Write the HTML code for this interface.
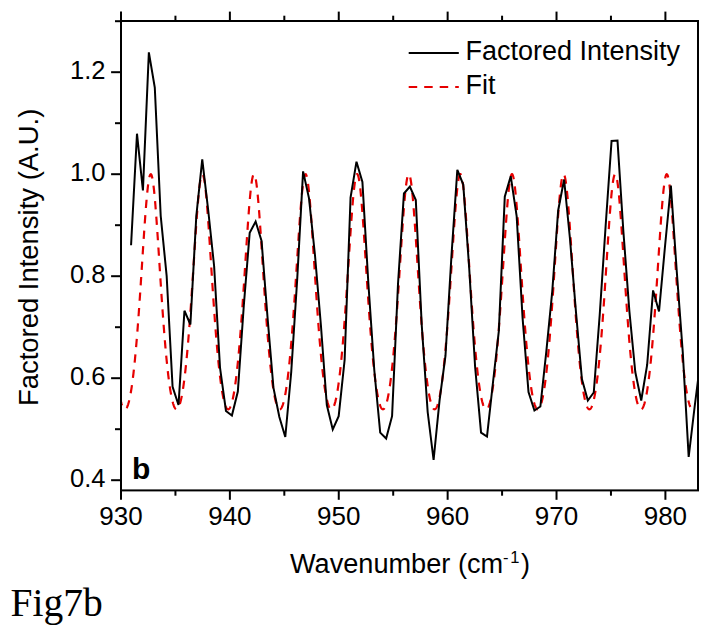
<!DOCTYPE html>
<html><head><meta charset="utf-8"><style>
html,body{margin:0;padding:0;background:#fff;}
svg{display:block;}
text{font-family:"Liberation Sans",sans-serif;fill:#000;}
</style></head><body>
<svg width="711" height="636" viewBox="0 0 711 636">
<rect width="711" height="636" fill="#fff"/>
<defs><clipPath id="pc"><rect x="121" y="21" width="577" height="469.4"/></clipPath></defs>
<g clip-path="url(#pc)">
<path d="M121.00,401.69 L121.22,402.51 L121.44,403.28 L121.65,404.01 L121.87,404.69 L122.09,405.32 L122.31,405.90 L122.52,406.44 L122.74,406.93 L122.96,407.38 L123.18,407.78 L123.40,408.13 L123.61,408.44 L123.83,408.70 L124.05,408.91 L124.27,409.08 L124.48,409.20 L124.70,409.28 L124.92,409.31 L125.14,409.29 L125.36,409.23 L125.57,409.13 L125.79,408.97 L126.01,408.77 L126.23,408.53 L126.44,408.24 L126.66,407.90 L126.88,407.52 L127.10,407.09 L127.32,406.61 L127.53,406.09 L127.75,405.52 L127.97,404.90 L128.19,404.24 L128.40,403.53 L128.62,402.77 L128.84,401.96 L129.06,401.11 L129.27,400.21 L129.49,399.26 L129.71,398.27 L129.93,397.22 L130.15,396.13 L130.36,394.99 L130.58,393.80 L130.80,392.56 L131.02,391.27 L131.23,389.94 L131.45,388.55 L131.67,387.11 L131.89,385.63 L132.11,384.09 L132.32,382.50 L132.54,380.87 L132.76,379.18 L132.98,377.44 L133.19,375.65 L133.41,373.82 L133.63,371.93 L133.85,369.98 L134.07,367.99 L134.28,365.95 L134.50,363.86 L134.72,361.71 L134.94,359.52 L135.15,357.27 L135.37,354.98 L135.59,352.63 L135.81,350.24 L136.03,347.79 L136.24,345.30 L136.46,342.75 L136.68,340.16 L136.90,337.52 L137.11,334.84 L137.33,332.11 L137.55,329.33 L137.77,326.50 L137.99,323.64 L138.20,320.73 L138.42,317.78 L138.64,314.79 L138.86,311.76 L139.07,308.69 L139.29,305.59 L139.51,302.45 L139.73,299.28 L139.95,296.07 L140.16,292.84 L140.38,289.59 L140.60,286.31 L140.82,283.01 L141.03,279.68 L141.25,276.35 L141.47,272.99 L141.69,269.63 L141.90,266.26 L142.12,262.89 L142.34,259.52 L142.56,256.15 L142.78,252.78 L142.99,249.43 L143.21,246.09 L143.43,242.77 L143.65,239.47 L143.86,236.20 L144.08,232.97 L144.30,229.77 L144.52,226.61 L144.74,223.50 L144.95,220.44 L145.17,217.43 L145.39,214.49 L145.61,211.61 L145.82,208.80 L146.04,206.07 L146.26,203.42 L146.48,200.86 L146.70,198.39 L146.91,196.01 L147.13,193.74 L147.35,191.57 L147.57,189.51 L147.78,187.56 L148.00,185.73 L148.22,184.03 L148.44,182.45 L148.66,181.00 L148.87,179.68 L149.09,178.50 L149.31,177.46 L149.53,176.56 L149.74,175.80 L149.96,175.19 L150.18,174.72 L150.40,174.40 L150.62,174.23 L150.83,174.21 L151.05,174.34 L151.27,174.61 L151.49,175.03 L151.70,175.60 L151.92,176.32 L152.14,177.17 L152.36,178.17 L152.58,179.31 L152.79,180.59 L153.01,182.00 L153.23,183.54 L153.45,185.21 L153.66,187.00 L153.88,188.91 L154.10,190.94 L154.32,193.07 L154.54,195.32 L154.75,197.66 L154.97,200.11 L155.19,202.64 L155.41,205.27 L155.62,207.97 L155.84,210.76 L156.06,213.62 L156.28,216.54 L156.49,219.53 L156.71,222.57 L156.93,225.67 L157.15,228.81 L157.37,232.00 L157.58,235.23 L157.80,238.49 L158.02,241.78 L158.24,245.09 L158.45,248.42 L158.67,251.77 L158.89,255.13 L159.11,258.50 L159.33,261.87 L159.54,265.25 L159.76,268.62 L159.98,271.98 L160.20,275.34 L160.41,278.68 L160.63,282.01 L160.85,285.32 L161.07,288.60 L161.29,291.87 L161.50,295.11 L161.72,298.32 L161.94,301.50 L162.16,304.64 L162.37,307.76 L162.59,310.84 L162.81,313.88 L163.03,316.88 L163.25,319.85 L163.46,322.77 L163.68,325.65 L163.90,328.48 L164.12,331.27 L164.33,334.02 L164.55,336.72 L164.77,339.37 L164.99,341.98 L165.21,344.54 L165.42,347.05 L165.64,349.51 L165.86,351.92 L166.08,354.28 L166.29,356.59 L166.51,358.85 L166.73,361.06 L166.95,363.22 L167.17,365.33 L167.38,367.38 L167.60,369.39 L167.82,371.35 L168.04,373.25 L168.25,375.11 L168.47,376.91 L168.69,378.66 L168.91,380.37 L169.12,382.02 L169.34,383.62 L169.56,385.17 L169.78,386.67 L170.00,388.12 L170.21,389.52 L170.43,390.88 L170.65,392.18 L170.87,393.43 L171.08,394.64 L171.30,395.79 L171.52,396.90 L171.74,397.96 L171.96,398.97 L172.17,399.93 L172.39,400.85 L172.61,401.71 L172.83,402.53 L173.04,403.30 L173.26,404.03 L173.48,404.70 L173.70,405.34 L173.92,405.92 L174.13,406.46 L174.35,406.95 L174.57,407.39 L174.79,407.79 L175.00,408.14 L175.22,408.44 L175.44,408.70 L175.66,408.92 L175.88,409.08 L176.09,409.21 L176.31,409.28 L176.53,409.31 L176.75,409.29 L176.96,409.23 L177.18,409.12 L177.40,408.97 L177.62,408.77 L177.84,408.52 L178.05,408.23 L178.27,407.89 L178.49,407.50 L178.71,407.07 L178.92,406.59 L179.14,406.07 L179.36,405.50 L179.58,404.88 L179.80,404.22 L180.01,403.51 L180.23,402.75 L180.45,401.94 L180.67,401.09 L180.88,400.18 L181.10,399.24 L181.32,398.24 L181.54,397.19 L181.76,396.10 L181.97,394.96 L182.19,393.77 L182.41,392.53 L182.63,391.24 L182.84,389.90 L183.06,388.51 L183.28,387.07 L183.50,385.58 L183.71,384.05 L183.93,382.46 L184.15,380.82 L184.37,379.13 L184.59,377.39 L184.80,375.60 L185.02,373.76 L185.24,371.87 L185.46,369.93 L185.67,367.94 L185.89,365.89 L186.11,363.80 L186.33,361.65 L186.55,359.46 L186.76,357.21 L186.98,354.91 L187.20,352.57 L187.42,350.17 L187.63,347.72 L187.85,345.23 L188.07,342.68 L188.29,340.09 L188.51,337.45 L188.72,334.76 L188.94,332.03 L189.16,329.25 L189.38,326.42 L189.59,323.56 L189.81,320.65 L190.03,317.69 L190.25,314.70 L190.47,311.67 L190.68,308.60 L190.90,305.50 L191.12,302.36 L191.34,299.19 L191.55,295.98 L191.77,292.75 L191.99,289.50 L192.21,286.21 L192.43,282.91 L192.64,279.59 L192.86,276.25 L193.08,272.90 L193.30,269.54 L193.51,266.17 L193.73,262.79 L193.95,259.42 L194.17,256.05 L194.39,252.69 L194.60,249.33 L194.82,246.00 L195.04,242.68 L195.26,239.38 L195.47,236.11 L195.69,232.88 L195.91,229.68 L196.13,226.52 L196.34,223.41 L196.56,220.35 L196.78,217.35 L197.00,214.41 L197.22,211.53 L197.43,208.73 L197.65,206.00 L197.87,203.35 L198.09,200.79 L198.30,198.32 L198.52,195.95 L198.74,193.68 L198.96,191.51 L199.18,189.45 L199.39,187.51 L199.61,185.69 L199.83,183.98 L200.05,182.41 L200.26,180.96 L200.48,179.65 L200.70,178.47 L200.92,177.43 L201.14,176.54 L201.35,175.78 L201.57,175.17 L201.79,174.71 L202.01,174.40 L202.22,174.23 L202.44,174.21 L202.66,174.34 L202.88,174.62 L203.10,175.05 L203.31,175.62 L203.53,176.34 L203.75,177.20 L203.97,178.20 L204.18,179.35 L204.40,180.63 L204.62,182.04 L204.84,183.59 L205.06,185.26 L205.27,187.05 L205.49,188.97 L205.71,191.00 L205.93,193.14 L206.14,195.38 L206.36,197.73 L206.58,200.18 L206.80,202.72 L207.02,205.34 L207.23,208.05 L207.45,210.84 L207.67,213.70 L207.89,216.62 L208.10,219.61 L208.32,222.66 L208.54,225.76 L208.76,228.90 L208.98,232.09 L209.19,235.32 L209.41,238.58 L209.63,241.87 L209.85,245.18 L210.06,248.52 L210.28,251.87 L210.50,255.23 L210.72,258.60 L210.93,261.97 L211.15,265.34 L211.37,268.71 L211.59,272.08 L211.81,275.43 L212.02,278.77 L212.24,282.10 L212.46,285.41 L212.68,288.70 L212.89,291.96 L213.11,295.20 L213.33,298.41 L213.55,301.59 L213.77,304.73 L213.98,307.85 L214.20,310.92 L214.42,313.96 L214.64,316.97 L214.85,319.93 L215.07,322.85 L215.29,325.73 L215.51,328.56 L215.73,331.35 L215.94,334.10 L216.16,336.80 L216.38,339.45 L216.60,342.05 L216.81,344.61 L217.03,347.12 L217.25,349.57 L217.47,351.98 L217.69,354.34 L217.90,356.65 L218.12,358.91 L218.34,361.12 L218.56,363.28 L218.77,365.38 L218.99,367.44 L219.21,369.45 L219.43,371.40 L219.65,373.30 L219.86,375.16 L220.08,376.96 L220.30,378.71 L220.52,380.41 L220.73,382.06 L220.95,383.66 L221.17,385.21 L221.39,386.71 L221.61,388.16 L221.82,389.56 L222.04,390.91 L222.26,392.21 L222.48,393.47 L222.69,394.67 L222.91,395.82 L223.13,396.93 L223.35,397.99 L223.56,399.00 L223.78,399.96 L224.00,400.87 L224.22,401.74 L224.44,402.55 L224.65,403.32 L224.87,404.05 L225.09,404.72 L225.31,405.35 L225.52,405.93 L225.74,406.47 L225.96,406.96 L226.18,407.40 L226.40,407.80 L226.61,408.15 L226.83,408.45 L227.05,408.71 L227.27,408.92 L227.48,409.09 L227.70,409.21 L227.92,409.28 L228.14,409.31 L228.36,409.29 L228.57,409.23 L228.79,409.12 L229.01,408.96 L229.23,408.76 L229.44,408.51 L229.66,408.22 L229.88,407.88 L230.10,407.49 L230.32,407.06 L230.53,406.58 L230.75,406.05 L230.97,405.48 L231.19,404.86 L231.40,404.20 L231.62,403.48 L231.84,402.72 L232.06,401.92 L232.28,401.06 L232.49,400.16 L232.71,399.21 L232.93,398.21 L233.15,397.16 L233.36,396.07 L233.58,394.92 L233.80,393.73 L234.02,392.49 L234.24,391.20 L234.45,389.86 L234.67,388.47 L234.89,387.03 L235.11,385.54 L235.32,384.00 L235.54,382.41 L235.76,380.77 L235.98,379.08 L236.20,377.34 L236.41,375.55 L236.63,373.71 L236.85,371.82 L237.07,369.87 L237.28,367.88 L237.50,365.83 L237.72,363.74 L237.94,361.59 L238.15,359.39 L238.37,357.15 L238.59,354.85 L238.81,352.50 L239.03,350.10 L239.24,347.65 L239.46,345.16 L239.68,342.61 L239.90,340.02 L240.11,337.37 L240.33,334.69 L240.55,331.95 L240.77,329.17 L240.99,326.34 L241.20,323.48 L241.42,320.56 L241.64,317.61 L241.86,314.62 L242.07,311.59 L242.29,308.52 L242.51,305.41 L242.73,302.27 L242.95,299.10 L243.16,295.89 L243.38,292.66 L243.60,289.40 L243.82,286.12 L244.03,282.82 L244.25,279.50 L244.47,276.16 L244.69,272.81 L244.91,269.44 L245.12,266.07 L245.34,262.70 L245.56,259.33 L245.78,255.96 L245.99,252.59 L246.21,249.24 L246.43,245.90 L246.65,242.58 L246.87,239.29 L247.08,236.02 L247.30,232.79 L247.52,229.59 L247.74,226.43 L247.95,223.32 L248.17,220.27 L248.39,217.27 L248.61,214.32 L248.83,211.45 L249.04,208.65 L249.26,205.92 L249.48,203.28 L249.70,200.72 L249.91,198.25 L250.13,195.88 L250.35,193.61 L250.57,191.45 L250.78,189.40 L251.00,187.46 L251.22,185.64 L251.44,183.94 L251.66,182.37 L251.87,180.92 L252.09,179.61 L252.31,178.44 L252.53,177.41 L252.74,176.51 L252.96,175.76 L253.18,175.16 L253.40,174.70 L253.62,174.39 L253.83,174.23 L254.05,174.21 L254.27,174.35 L254.49,174.63 L254.70,175.06 L254.92,175.64 L255.14,176.36 L255.36,177.23 L255.58,178.24 L255.79,179.38 L256.01,180.67 L256.23,182.08 L256.45,183.63 L256.66,185.31 L256.88,187.10 L257.10,189.02 L257.32,191.05 L257.54,193.20 L257.75,195.45 L257.97,197.80 L258.19,200.25 L258.41,202.79 L258.62,205.42 L258.84,208.13 L259.06,210.92 L259.28,213.78 L259.50,216.71 L259.71,219.70 L259.93,222.74 L260.15,225.84 L260.37,228.99 L260.58,232.18 L260.80,235.41 L261.02,238.67 L261.24,241.96 L261.46,245.28 L261.67,248.61 L261.89,251.96 L262.11,255.32 L262.33,258.69 L262.54,262.06 L262.76,265.44 L262.98,268.81 L263.20,272.17 L263.42,275.53 L263.63,278.87 L263.85,282.19 L264.07,285.50 L264.29,288.79 L264.50,292.05 L264.72,295.29 L264.94,298.50 L265.16,301.67 L265.37,304.82 L265.59,307.93 L265.81,311.01 L266.03,314.05 L266.25,317.05 L266.46,320.01 L266.68,322.93 L266.90,325.81 L267.12,328.64 L267.33,331.43 L267.55,334.17 L267.77,336.87 L267.99,339.52 L268.21,342.12 L268.42,344.68 L268.64,347.19 L268.86,349.64 L269.08,352.05 L269.29,354.41 L269.51,356.72 L269.73,358.97 L269.95,361.18 L270.17,363.34 L270.38,365.44 L270.60,367.50 L270.82,369.50 L271.04,371.46 L271.25,373.36 L271.47,375.21 L271.69,377.01 L271.91,378.76 L272.13,380.46 L272.34,382.11 L272.56,383.71 L272.78,385.26 L273.00,386.75 L273.21,388.20 L273.43,389.60 L273.65,390.95 L273.87,392.25 L274.09,393.50 L274.30,394.70 L274.52,395.86 L274.74,396.96 L274.96,398.02 L275.17,399.02 L275.39,399.98 L275.61,400.90 L275.83,401.76 L276.05,402.58 L276.26,403.34 L276.48,404.07 L276.70,404.74 L276.92,405.37 L277.13,405.95 L277.35,406.48 L277.57,406.97 L277.79,407.41 L278.00,407.81 L278.22,408.16 L278.44,408.46 L278.66,408.72 L278.88,408.93 L279.09,409.09 L279.31,409.21 L279.53,409.28 L279.75,409.31 L279.96,409.29 L280.18,409.23 L280.40,409.11 L280.62,408.96 L280.84,408.75 L281.05,408.50 L281.27,408.21 L281.49,407.87 L281.71,407.48 L281.92,407.05 L282.14,406.57 L282.36,406.04 L282.58,405.47 L282.80,404.85 L283.01,404.18 L283.23,403.46 L283.45,402.70 L283.67,401.89 L283.88,401.04 L284.10,400.13 L284.32,399.18 L284.54,398.18 L284.76,397.13 L284.97,396.04 L285.19,394.89 L285.41,393.70 L285.63,392.45 L285.84,391.16 L286.06,389.82 L286.28,388.43 L286.50,386.99 L286.72,385.50 L286.93,383.96 L287.15,382.37 L287.37,380.73 L287.59,379.04 L287.80,377.29 L288.02,375.50 L288.24,373.66 L288.46,371.76 L288.68,369.82 L288.89,367.82 L289.11,365.78 L289.33,363.68 L289.55,361.53 L289.76,359.33 L289.98,357.08 L290.20,354.78 L290.42,352.43 L290.64,350.03 L290.85,347.58 L291.07,345.08 L291.29,342.54 L291.51,339.94 L291.72,337.30 L291.94,334.61 L292.16,331.87 L292.38,329.09 L292.59,326.26 L292.81,323.39 L293.03,320.48 L293.25,317.53 L293.47,314.53 L293.68,311.50 L293.90,308.43 L294.12,305.32 L294.34,302.18 L294.55,299.01 L294.77,295.80 L294.99,292.57 L295.21,289.31 L295.43,286.03 L295.64,282.73 L295.86,279.40 L296.08,276.06 L296.30,272.71 L296.51,269.35 L296.73,265.98 L296.95,262.61 L297.17,259.23 L297.39,255.86 L297.60,252.50 L297.82,249.15 L298.04,245.81 L298.26,242.49 L298.47,239.20 L298.69,235.93 L298.91,232.70 L299.13,229.50 L299.35,226.35 L299.56,223.24 L299.78,220.18 L300.00,217.18 L300.22,214.24 L300.43,211.37 L300.65,208.57 L300.87,205.85 L301.09,203.21 L301.31,200.65 L301.52,198.19 L301.74,195.82 L301.96,193.55 L302.18,191.39 L302.39,189.34 L302.61,187.40 L302.83,185.59 L303.05,183.89 L303.27,182.32 L303.48,180.88 L303.70,179.58 L303.92,178.41 L304.14,177.38 L304.35,176.49 L304.57,175.74 L304.79,175.14 L305.01,174.69 L305.22,174.38 L305.44,174.22 L305.66,174.21 L305.88,174.35 L306.10,174.64 L306.31,175.07 L306.53,175.66 L306.75,176.38 L306.97,177.25 L307.18,178.27 L307.40,179.42 L307.62,180.70 L307.84,182.13 L308.06,183.68 L308.27,185.35 L308.49,187.16 L308.71,189.08 L308.93,191.11 L309.14,193.26 L309.36,195.51 L309.58,197.87 L309.80,200.32 L310.02,202.86 L310.23,205.49 L310.45,208.21 L310.67,211.00 L310.89,213.86 L311.10,216.79 L311.32,219.78 L311.54,222.83 L311.76,225.93 L311.98,229.08 L312.19,232.27 L312.41,235.50 L312.63,238.76 L312.85,242.05 L313.06,245.37 L313.28,248.70 L313.50,252.05 L313.72,255.42 L313.94,258.79 L314.15,262.16 L314.37,265.53 L314.59,268.90 L314.81,272.27 L315.02,275.62 L315.24,278.96 L315.46,282.29 L315.68,285.59 L315.90,288.88 L316.11,292.14 L316.33,295.38 L316.55,298.59 L316.77,301.76 L316.98,304.91 L317.20,308.02 L317.42,311.10 L317.64,314.13 L317.86,317.13 L318.07,320.09 L318.29,323.01 L318.51,325.89 L318.73,328.72 L318.94,331.51 L319.16,334.25 L319.38,336.95 L319.60,339.60 L319.81,342.20 L320.03,344.75 L320.25,347.26 L320.47,349.71 L320.69,352.12 L320.90,354.47 L321.12,356.78 L321.34,359.04 L321.56,361.24 L321.77,363.40 L321.99,365.50 L322.21,367.56 L322.43,369.56 L322.65,371.51 L322.86,373.41 L323.08,375.26 L323.30,377.06 L323.52,378.81 L323.73,380.51 L323.95,382.15 L324.17,383.75 L324.39,385.30 L324.61,386.80 L324.82,388.24 L325.04,389.64 L325.26,390.99 L325.48,392.29 L325.69,393.54 L325.91,394.74 L326.13,395.89 L326.35,396.99 L326.57,398.05 L326.78,399.05 L327.00,400.01 L327.22,400.92 L327.44,401.78 L327.65,402.60 L327.87,403.37 L328.09,404.09 L328.31,404.76 L328.53,405.39 L328.74,405.97 L328.96,406.50 L329.18,406.99 L329.40,407.43 L329.61,407.82 L329.83,408.17 L330.05,408.47 L330.27,408.72 L330.49,408.93 L330.70,409.10 L330.92,409.21 L331.14,409.28 L331.36,409.31 L331.57,409.29 L331.79,409.22 L332.01,409.11 L332.23,408.95 L332.44,408.75 L332.66,408.50 L332.88,408.20 L333.10,407.86 L333.32,407.47 L333.53,407.03 L333.75,406.55 L333.97,406.02 L334.19,405.45 L334.40,404.83 L334.62,404.16 L334.84,403.44 L335.06,402.68 L335.28,401.87 L335.49,401.01 L335.71,400.11 L335.93,399.15 L336.15,398.15 L336.36,397.10 L336.58,396.00 L336.80,394.86 L337.02,393.66 L337.24,392.42 L337.45,391.13 L337.67,389.78 L337.89,388.39 L338.11,386.95 L338.32,385.46 L338.54,383.91 L338.76,382.32 L338.98,380.68 L339.20,378.99 L339.41,377.24 L339.63,375.45 L339.85,373.61 L340.07,371.71 L340.28,369.76 L340.50,367.77 L340.72,365.72 L340.94,363.62 L341.16,361.47 L341.37,359.27 L341.59,357.02 L341.81,354.72 L342.03,352.37 L342.24,349.96 L342.46,347.51 L342.68,345.01 L342.90,342.47 L343.12,339.87 L343.33,337.22 L343.55,334.53 L343.77,331.80 L343.99,329.01 L344.20,326.18 L344.42,323.31 L344.64,320.40 L344.86,317.44 L345.08,314.45 L345.29,311.41 L345.51,308.34 L345.73,305.23 L345.95,302.09 L346.16,298.92 L346.38,295.71 L346.60,292.48 L346.82,289.22 L347.03,285.94 L347.25,282.63 L347.47,279.31 L347.69,275.97 L347.91,272.62 L348.12,269.25 L348.34,265.88 L348.56,262.51 L348.78,259.14 L348.99,255.77 L349.21,252.40 L349.43,249.05 L349.65,245.72 L349.87,242.40 L350.08,239.10 L350.30,235.84 L350.52,232.61 L350.74,229.41 L350.95,226.26 L351.17,223.15 L351.39,220.10 L351.61,217.10 L351.83,214.16 L352.04,211.29 L352.26,208.49 L352.48,205.77 L352.70,203.13 L352.91,200.58 L353.13,198.12 L353.35,195.75 L353.57,193.49 L353.79,191.33 L354.00,189.28 L354.22,187.35 L354.44,185.54 L354.66,183.85 L354.87,182.28 L355.09,180.85 L355.31,179.54 L355.53,178.38 L355.75,177.35 L355.96,176.47 L356.18,175.73 L356.40,175.13 L356.62,174.68 L356.83,174.38 L357.05,174.22 L357.27,174.22 L357.49,174.36 L357.71,174.65 L357.92,175.09 L358.14,175.67 L358.36,176.41 L358.58,177.28 L358.79,178.30 L359.01,179.45 L359.23,180.74 L359.45,182.17 L359.66,183.72 L359.88,185.40 L360.10,187.21 L360.32,189.13 L360.54,191.17 L360.75,193.32 L360.97,195.58 L361.19,197.93 L361.41,200.39 L361.62,202.93 L361.84,205.57 L362.06,208.28 L362.28,211.08 L362.50,213.94 L362.71,216.87 L362.93,219.87 L363.15,222.92 L363.37,226.02 L363.58,229.17 L363.80,232.36 L364.02,235.59 L364.24,238.86 L364.46,242.15 L364.67,245.46 L364.89,248.80 L365.11,252.15 L365.33,255.51 L365.54,258.88 L365.76,262.25 L365.98,265.63 L366.20,269.00 L366.42,272.36 L366.63,275.71 L366.85,279.06 L367.07,282.38 L367.29,285.69 L367.50,288.97 L367.72,292.23 L367.94,295.47 L368.16,298.68 L368.38,301.85 L368.59,305.00 L368.81,308.11 L369.03,311.18 L369.25,314.22 L369.46,317.22 L369.68,320.18 L369.90,323.09 L370.12,325.97 L370.34,328.80 L370.55,331.59 L370.77,334.33 L370.99,337.02 L371.21,339.67 L371.42,342.27 L371.64,344.82 L371.86,347.33 L372.08,349.78 L372.30,352.18 L372.51,354.54 L372.73,356.84 L372.95,359.10 L373.17,361.30 L373.38,363.46 L373.60,365.56 L373.82,367.61 L374.04,369.61 L374.25,371.56 L374.47,373.46 L374.69,375.31 L374.91,377.11 L375.13,378.86 L375.34,380.55 L375.56,382.20 L375.78,383.80 L376.00,385.34 L376.21,386.84 L376.43,388.28 L376.65,389.68 L376.87,391.02 L377.09,392.32 L377.30,393.57 L377.52,394.77 L377.74,395.92 L377.96,397.02 L378.17,398.07 L378.39,399.08 L378.61,400.04 L378.83,400.94 L379.05,401.81 L379.26,402.62 L379.48,403.39 L379.70,404.11 L379.92,404.78 L380.13,405.40 L380.35,405.98 L380.57,406.51 L380.79,407.00 L381.01,407.44 L381.22,407.83 L381.44,408.18 L381.66,408.48 L381.88,408.73 L382.09,408.94 L382.31,409.10 L382.53,409.22 L382.75,409.29 L382.97,409.31 L383.18,409.29 L383.40,409.22 L383.62,409.11 L383.84,408.95 L384.05,408.74 L384.27,408.49 L384.49,408.19 L384.71,407.85 L384.93,407.46 L385.14,407.02 L385.36,406.54 L385.58,406.01 L385.80,405.43 L386.01,404.81 L386.23,404.14 L386.45,403.42 L386.67,402.66 L386.88,401.85 L387.10,400.99 L387.32,400.08 L387.54,399.13 L387.76,398.12 L387.97,397.07 L388.19,395.97 L388.41,394.83 L388.63,393.63 L388.84,392.38 L389.06,391.09 L389.28,389.74 L389.50,388.35 L389.72,386.91 L389.93,385.41 L390.15,383.87 L390.37,382.28 L390.59,380.63 L390.80,378.94 L391.02,377.19 L391.24,375.40 L391.46,373.55 L391.68,371.66 L391.89,369.71 L392.11,367.71 L392.33,365.66 L392.55,363.56 L392.76,361.41 L392.98,359.21 L393.20,356.95 L393.42,354.65 L393.64,352.30 L393.85,349.90 L394.07,347.44 L394.29,344.94 L394.51,342.39 L394.72,339.79 L394.94,337.15 L395.16,334.46 L395.38,331.72 L395.60,328.93 L395.81,326.10 L396.03,323.23 L396.25,320.32 L396.47,317.36 L396.68,314.36 L396.90,311.33 L397.12,308.26 L397.34,305.15 L397.56,302.00 L397.77,298.83 L397.99,295.62 L398.21,292.39 L398.43,289.13 L398.64,285.84 L398.86,282.54 L399.08,279.22 L399.30,275.88 L399.52,272.52 L399.73,269.16 L399.95,265.79 L400.17,262.42 L400.39,259.04 L400.60,255.67 L400.82,252.31 L401.04,248.96 L401.26,245.62 L401.47,242.31 L401.69,239.01 L401.91,235.75 L402.13,232.52 L402.35,229.32 L402.56,226.17 L402.78,223.06 L403.00,220.01 L403.22,217.01 L403.43,214.08 L403.65,211.21 L403.87,208.42 L404.09,205.70 L404.31,203.06 L404.52,200.51 L404.74,198.05 L404.96,195.69 L405.18,193.43 L405.39,191.27 L405.61,189.23 L405.83,187.30 L406.05,185.49 L406.27,183.80 L406.48,182.24 L406.70,180.81 L406.92,179.51 L407.14,178.35 L407.35,177.33 L407.57,176.44 L407.79,175.71 L408.01,175.11 L408.23,174.67 L408.44,174.37 L408.66,174.22 L408.88,174.22 L409.10,174.37 L409.31,174.66 L409.53,175.10 L409.75,175.69 L409.97,176.43 L410.19,177.31 L410.40,178.33 L410.62,179.49 L410.84,180.78 L411.06,182.21 L411.27,183.77 L411.49,185.45 L411.71,187.26 L411.93,189.19 L412.15,191.23 L412.36,193.38 L412.58,195.64 L412.80,198.00 L413.02,200.46 L413.23,203.01 L413.45,205.64 L413.67,208.36 L413.89,211.16 L414.10,214.02 L414.32,216.96 L414.54,219.95 L414.76,223.00 L414.98,226.11 L415.19,229.26 L415.41,232.45 L415.63,235.68 L415.85,238.95 L416.06,242.24 L416.28,245.56 L416.50,248.89 L416.72,252.24 L416.94,255.61 L417.15,258.98 L417.37,262.35 L417.59,265.72 L417.81,269.09 L418.02,272.46 L418.24,275.81 L418.46,279.15 L418.68,282.47 L418.90,285.78 L419.11,289.06 L419.33,292.32 L419.55,295.56 L419.77,298.77 L419.98,301.94 L420.20,305.08 L420.42,308.19 L420.64,311.27 L420.86,314.30 L421.07,317.30 L421.29,320.26 L421.51,323.17 L421.73,326.05 L421.94,328.88 L422.16,331.66 L422.38,334.40 L422.60,337.10 L422.82,339.74 L423.03,342.34 L423.25,344.89 L423.47,347.39 L423.69,349.85 L423.90,352.25 L424.12,354.61 L424.34,356.91 L424.56,359.16 L424.78,361.36 L424.99,363.52 L425.21,365.62 L425.43,367.67 L425.65,369.67 L425.86,371.62 L426.08,373.52 L426.30,375.36 L426.52,377.16 L426.74,378.90 L426.95,380.60 L427.17,382.24 L427.39,383.84 L427.61,385.38 L427.82,386.88 L428.04,388.32 L428.26,389.72 L428.48,391.06 L428.69,392.36 L428.91,393.60 L429.13,394.80 L429.35,395.95 L429.57,397.05 L429.78,398.10 L430.00,399.11 L430.22,400.06 L430.44,400.97 L430.65,401.83 L430.87,402.64 L431.09,403.41 L431.31,404.13 L431.53,404.80 L431.74,405.42 L431.96,406.00 L432.18,406.53 L432.40,407.01 L432.61,407.45 L432.83,407.84 L433.05,408.19 L433.27,408.48 L433.49,408.74 L433.70,408.94 L433.92,409.10 L434.14,409.22 L434.36,409.29 L434.57,409.31 L434.79,409.29 L435.01,409.22 L435.23,409.10 L435.45,408.94 L435.66,408.73 L435.88,408.48 L436.10,408.18 L436.32,407.84 L436.53,407.45 L436.75,407.01 L436.97,406.52 L437.19,405.99 L437.41,405.42 L437.62,404.79 L437.84,404.12 L438.06,403.40 L438.28,402.64 L438.49,401.82 L438.71,400.96 L438.93,400.05 L439.15,399.10 L439.37,398.09 L439.58,397.04 L439.80,395.94 L440.02,394.79 L440.24,393.59 L440.45,392.35 L440.67,391.05 L440.89,389.71 L441.11,388.31 L441.32,386.87 L441.54,385.37 L441.76,383.83 L441.98,382.23 L442.20,380.59 L442.41,378.89 L442.63,377.14 L442.85,375.35 L443.07,373.50 L443.28,371.60 L443.50,369.65 L443.72,367.65 L443.94,365.60 L444.16,363.50 L444.37,361.35 L444.59,359.14 L444.81,356.89 L445.03,354.59 L445.24,352.23 L445.46,349.83 L445.68,347.37 L445.90,344.87 L446.12,342.32 L446.33,339.72 L446.55,337.07 L446.77,334.38 L446.99,331.64 L447.20,328.85 L447.42,326.02 L447.64,323.15 L447.86,320.23 L448.08,317.28 L448.29,314.28 L448.51,311.24 L448.73,308.17 L448.95,305.06 L449.16,301.91 L449.38,298.74 L449.60,295.53 L449.82,292.30 L450.04,289.04 L450.25,285.75 L450.47,282.45 L450.69,279.12 L450.91,275.78 L451.12,272.43 L451.34,269.06 L451.56,265.69 L451.78,262.32 L452.00,258.95 L452.21,255.58 L452.43,252.21 L452.65,248.86 L452.87,245.53 L453.08,242.21 L453.30,238.92 L453.52,235.66 L453.74,232.43 L453.96,229.23 L454.17,226.08 L454.39,222.98 L454.61,219.93 L454.83,216.93 L455.04,214.00 L455.26,211.13 L455.48,208.34 L455.70,205.62 L455.91,202.99 L456.13,200.44 L456.35,197.98 L456.57,195.62 L456.79,193.37 L457.00,191.21 L457.22,189.17 L457.44,187.25 L457.66,185.44 L457.87,183.75 L458.09,182.20 L458.31,180.77 L458.53,179.48 L458.75,178.32 L458.96,177.30 L459.18,176.42 L459.40,175.69 L459.62,175.10 L459.83,174.66 L460.05,174.36 L460.27,174.22 L460.49,174.22 L460.71,174.37 L460.92,174.67 L461.14,175.12 L461.36,175.71 L461.58,176.45 L461.79,177.33 L462.01,178.36 L462.23,179.52 L462.45,180.82 L462.67,182.25 L462.88,183.81 L463.10,185.50 L463.32,187.31 L463.54,189.24 L463.75,191.29 L463.97,193.45 L464.19,195.71 L464.41,198.07 L464.63,200.53 L464.84,203.08 L465.06,205.72 L465.28,208.44 L465.50,211.24 L465.71,214.10 L465.93,217.04 L466.15,220.04 L466.37,223.09 L466.59,226.20 L466.80,229.35 L467.02,232.54 L467.24,235.77 L467.46,239.04 L467.67,242.33 L467.89,245.65 L468.11,248.99 L468.33,252.34 L468.54,255.70 L468.76,259.07 L468.98,262.44 L469.20,265.82 L469.42,269.19 L469.63,272.55 L469.85,275.90 L470.07,279.24 L470.29,282.57 L470.50,285.87 L470.72,289.16 L470.94,292.42 L471.16,295.65 L471.38,298.85 L471.59,302.03 L471.81,305.17 L472.03,308.28 L472.25,311.35 L472.46,314.39 L472.68,317.39 L472.90,320.34 L473.12,323.26 L473.34,326.13 L473.55,328.96 L473.77,331.74 L473.99,334.48 L474.21,337.17 L474.42,339.82 L474.64,342.41 L474.86,344.96 L475.08,347.46 L475.30,349.92 L475.51,352.32 L475.73,354.67 L475.95,356.97 L476.17,359.22 L476.38,361.43 L476.60,363.58 L476.82,365.68 L477.04,367.73 L477.26,369.72 L477.47,371.67 L477.69,373.57 L477.91,375.41 L478.13,377.21 L478.34,378.95 L478.56,380.65 L478.78,382.29 L479.00,383.88 L479.22,385.43 L479.43,386.92 L479.65,388.36 L479.87,389.76 L480.09,391.10 L480.30,392.39 L480.52,393.64 L480.74,394.83 L480.96,395.98 L481.18,397.08 L481.39,398.13 L481.61,399.13 L481.83,400.09 L482.05,400.99 L482.26,401.85 L482.48,402.66 L482.70,403.43 L482.92,404.14 L483.13,404.81 L483.35,405.44 L483.57,406.01 L483.79,406.54 L484.01,407.02 L484.22,407.46 L484.44,407.85 L484.66,408.19 L484.88,408.49 L485.09,408.74 L485.31,408.95 L485.53,409.11 L485.75,409.22 L485.97,409.29 L486.18,409.31 L486.40,409.29 L486.62,409.22 L486.84,409.10 L487.05,408.94 L487.27,408.73 L487.49,408.47 L487.71,408.17 L487.93,407.83 L488.14,407.43 L488.36,407.00 L488.58,406.51 L488.80,405.98 L489.01,405.40 L489.23,404.77 L489.45,404.10 L489.67,403.38 L489.89,402.61 L490.10,401.80 L490.32,400.94 L490.54,400.03 L490.76,399.07 L490.97,398.07 L491.19,397.01 L491.41,395.91 L491.63,394.76 L491.85,393.56 L492.06,392.31 L492.28,391.01 L492.50,389.67 L492.72,388.27 L492.93,386.82 L493.15,385.33 L493.37,383.78 L493.59,382.19 L493.81,380.54 L494.02,378.84 L494.24,377.09 L494.46,375.30 L494.68,373.45 L494.89,371.55 L495.11,369.60 L495.33,367.60 L495.55,365.54 L495.76,363.44 L495.98,361.29 L496.20,359.08 L496.42,356.83 L496.64,354.52 L496.85,352.16 L497.07,349.76 L497.29,347.30 L497.51,344.80 L497.72,342.25 L497.94,339.65 L498.16,337.00 L498.38,334.30 L498.60,331.56 L498.81,328.78 L499.03,325.94 L499.25,323.07 L499.47,320.15 L499.68,317.19 L499.90,314.19 L500.12,311.16 L500.34,308.08 L500.56,304.97 L500.77,301.83 L500.99,298.65 L501.21,295.44 L501.43,292.21 L501.64,288.94 L501.86,285.66 L502.08,282.35 L502.30,279.03 L502.52,275.69 L502.73,272.33 L502.95,268.97 L503.17,265.60 L503.39,262.23 L503.60,258.85 L503.82,255.48 L504.04,252.12 L504.26,248.77 L504.48,245.43 L504.69,242.12 L504.91,238.83 L505.13,235.57 L505.35,232.34 L505.56,229.14 L505.78,225.99 L506.00,222.89 L506.22,219.84 L506.44,216.85 L506.65,213.92 L506.87,211.05 L507.09,208.26 L507.31,205.55 L507.52,202.91 L507.74,200.37 L507.96,197.91 L508.18,195.56 L508.40,193.30 L508.61,191.15 L508.83,189.12 L509.05,187.19 L509.27,185.39 L509.48,183.71 L509.70,182.15 L509.92,180.73 L510.14,179.44 L510.35,178.29 L510.57,177.27 L510.79,176.40 L511.01,175.67 L511.23,175.09 L511.44,174.65 L511.66,174.36 L511.88,174.22 L512.10,174.22 L512.31,174.38 L512.53,174.68 L512.75,175.13 L512.97,175.73 L513.19,176.47 L513.40,177.36 L513.62,178.39 L513.84,179.55 L514.06,180.86 L514.27,182.29 L514.49,183.86 L514.71,185.55 L514.93,187.37 L515.15,189.30 L515.36,191.35 L515.58,193.51 L515.80,195.77 L516.02,198.14 L516.23,200.60 L516.45,203.15 L516.67,205.79 L516.89,208.52 L517.11,211.32 L517.32,214.19 L517.54,217.12 L517.76,220.12 L517.98,223.18 L518.19,226.28 L518.41,229.44 L518.63,232.63 L518.85,235.87 L519.07,239.13 L519.28,242.43 L519.50,245.74 L519.72,249.08 L519.94,252.43 L520.15,255.79 L520.37,259.16 L520.59,262.54 L520.81,265.91 L521.03,269.28 L521.24,272.64 L521.46,276.00 L521.68,279.34 L521.90,282.66 L522.11,285.96 L522.33,289.25 L522.55,292.51 L522.77,295.74 L522.98,298.94 L523.20,302.12 L523.42,305.26 L523.64,308.37 L523.86,311.44 L524.07,314.47 L524.29,317.47 L524.51,320.42 L524.73,323.34 L524.94,326.21 L525.16,329.04 L525.38,331.82 L525.60,334.56 L525.82,337.25 L526.03,339.89 L526.25,342.49 L526.47,345.03 L526.69,347.53 L526.90,349.98 L527.12,352.38 L527.34,354.74 L527.56,357.04 L527.78,359.29 L527.99,361.49 L528.21,363.64 L528.43,365.74 L528.65,367.78 L528.86,369.78 L529.08,371.73 L529.30,373.62 L529.52,375.47 L529.74,377.26 L529.95,379.00 L530.17,380.69 L530.39,382.34 L530.61,383.93 L530.82,385.47 L531.04,386.96 L531.26,388.40 L531.48,389.79 L531.70,391.14 L531.91,392.43 L532.13,393.67 L532.35,394.87 L532.57,396.01 L532.78,397.11 L533.00,398.16 L533.22,399.16 L533.44,400.11 L533.66,401.02 L533.87,401.88 L534.09,402.69 L534.31,403.45 L534.53,404.16 L534.74,404.83 L534.96,405.45 L535.18,406.03 L535.40,406.56 L535.62,407.04 L535.83,407.47 L536.05,407.86 L536.27,408.20 L536.49,408.50 L536.70,408.75 L536.92,408.95 L537.14,409.11 L537.36,409.22 L537.57,409.29 L537.79,409.31 L538.01,409.28 L538.23,409.21 L538.45,409.09 L538.66,408.93 L538.88,408.72 L539.10,408.47 L539.32,408.16 L539.53,407.82 L539.75,407.42 L539.97,406.98 L540.19,406.50 L540.41,405.96 L540.62,405.38 L540.84,404.75 L541.06,404.08 L541.28,403.36 L541.49,402.59 L541.71,401.78 L541.93,400.91 L542.15,400.00 L542.37,399.04 L542.58,398.04 L542.80,396.98 L543.02,395.88 L543.24,394.73 L543.45,393.53 L543.67,392.28 L543.89,390.98 L544.11,389.63 L544.33,388.23 L544.54,386.78 L544.76,385.29 L544.98,383.74 L545.20,382.14 L545.41,380.49 L545.63,378.79 L545.85,377.04 L546.07,375.25 L546.29,373.39 L546.50,371.49 L546.72,369.54 L546.94,367.54 L547.16,365.48 L547.37,363.38 L547.59,361.22 L547.81,359.02 L548.03,356.76 L548.25,354.45 L548.46,352.10 L548.68,349.69 L548.90,347.23 L549.12,344.73 L549.33,342.18 L549.55,339.57 L549.77,336.92 L549.99,334.23 L550.20,331.48 L550.42,328.70 L550.64,325.86 L550.86,322.99 L551.08,320.07 L551.29,317.11 L551.51,314.11 L551.73,311.07 L551.95,307.99 L552.16,304.88 L552.38,301.74 L552.60,298.56 L552.82,295.35 L553.04,292.11 L553.25,288.85 L553.47,285.57 L553.69,282.26 L553.91,278.93 L554.12,275.59 L554.34,272.24 L554.56,268.88 L554.78,265.50 L555.00,262.13 L555.21,258.76 L555.43,255.39 L555.65,252.03 L555.87,248.68 L556.08,245.34 L556.30,242.03 L556.52,238.74 L556.74,235.47 L556.96,232.25 L557.17,229.05 L557.39,225.91 L557.61,222.81 L557.83,219.76 L558.04,216.76 L558.26,213.84 L558.48,210.97 L558.70,208.18 L558.92,205.47 L559.13,202.84 L559.35,200.30 L559.57,197.85 L559.79,195.49 L560.00,193.24 L560.22,191.10 L560.44,189.06 L560.66,187.14 L560.88,185.34 L561.09,183.66 L561.31,182.11 L561.53,180.69 L561.75,179.41 L561.96,178.26 L562.18,177.25 L562.40,176.38 L562.62,175.65 L562.84,175.07 L563.05,174.64 L563.27,174.35 L563.49,174.21 L563.71,174.22 L563.92,174.38 L564.14,174.69 L564.36,175.15 L564.58,175.75 L564.79,176.50 L565.01,177.39 L565.23,178.42 L565.45,179.59 L565.67,180.90 L565.88,182.34 L566.10,183.90 L566.32,185.60 L566.54,187.42 L566.75,189.36 L566.97,191.41 L567.19,193.57 L567.41,195.84 L567.63,198.21 L567.84,200.67 L568.06,203.23 L568.28,205.87 L568.50,208.59 L568.71,211.39 L568.93,214.27 L569.15,217.21 L569.37,220.21 L569.59,223.26 L569.80,226.37 L570.02,229.53 L570.24,232.72 L570.46,235.96 L570.67,239.22 L570.89,242.52 L571.11,245.84 L571.33,249.17 L571.55,252.53 L571.76,255.89 L571.98,259.26 L572.20,262.63 L572.42,266.01 L572.63,269.38 L572.85,272.74 L573.07,276.09 L573.29,279.43 L573.51,282.75 L573.72,286.06 L573.94,289.34 L574.16,292.60 L574.38,295.83 L574.59,299.03 L574.81,302.21 L575.03,305.35 L575.25,308.45 L575.47,311.53 L575.68,314.56 L575.90,317.55 L576.12,320.51 L576.34,323.42 L576.55,326.29 L576.77,329.11 L576.99,331.90 L577.21,334.63 L577.42,337.32 L577.64,339.96 L577.86,342.56 L578.08,345.11 L578.30,347.60 L578.51,350.05 L578.73,352.45 L578.95,354.80 L579.17,357.10 L579.38,359.35 L579.60,361.55 L579.82,363.70 L580.04,365.79 L580.26,367.84 L580.47,369.84 L580.69,371.78 L580.91,373.67 L581.13,375.52 L581.34,377.31 L581.56,379.05 L581.78,380.74 L582.00,382.38 L582.22,383.97 L582.43,385.51 L582.65,387.00 L582.87,388.44 L583.09,389.83 L583.30,391.17 L583.52,392.46 L583.74,393.71 L583.96,394.90 L584.18,396.05 L584.39,397.14 L584.61,398.19 L584.83,399.19 L585.05,400.14 L585.26,401.04 L585.48,401.90 L585.70,402.71 L585.92,403.47 L586.14,404.18 L586.35,404.85 L586.57,405.47 L586.79,406.04 L587.01,406.57 L587.22,407.05 L587.44,407.48 L587.66,407.87 L587.88,408.21 L588.10,408.51 L588.31,408.76 L588.53,408.96 L588.75,409.12 L588.97,409.23 L589.18,409.29 L589.40,409.31 L589.62,409.28 L589.84,409.21 L590.06,409.09 L590.27,408.93 L590.49,408.72 L590.71,408.46 L590.93,408.16 L591.14,407.81 L591.36,407.41 L591.58,406.97 L591.80,406.48 L592.01,405.95 L592.23,405.36 L592.45,404.74 L592.67,404.06 L592.89,403.34 L593.10,402.57 L593.32,401.75 L593.54,400.89 L593.76,399.98 L593.97,399.02 L594.19,398.01 L594.41,396.95 L594.63,395.85 L594.85,394.69 L595.06,393.49 L595.28,392.24 L595.50,390.94 L595.72,389.59 L595.93,388.19 L596.15,386.74 L596.37,385.24 L596.59,383.69 L596.81,382.09 L597.02,380.45 L597.24,378.75 L597.46,377.00 L597.68,375.19 L597.89,373.34 L598.11,371.44 L598.33,369.49 L598.55,367.48 L598.77,365.43 L598.98,363.32 L599.20,361.16 L599.42,358.96 L599.64,356.70 L599.85,354.39 L600.07,352.03 L600.29,349.62 L600.51,347.17 L600.73,344.66 L600.94,342.10 L601.16,339.50 L601.38,336.85 L601.60,334.15 L601.81,331.41 L602.03,328.62 L602.25,325.78 L602.47,322.91 L602.69,319.99 L602.90,317.03 L603.12,314.02 L603.34,310.98 L603.56,307.91 L603.77,304.79 L603.99,301.65 L604.21,298.47 L604.43,295.26 L604.64,292.02 L604.86,288.76 L605.08,285.47 L605.30,282.17 L605.52,278.84 L605.73,275.50 L605.95,272.14 L606.17,268.78 L606.39,265.41 L606.60,262.04 L606.82,258.66 L607.04,255.29 L607.26,251.93 L607.48,248.58 L607.69,245.25 L607.91,241.93 L608.13,238.64 L608.35,235.38 L608.56,232.16 L608.78,228.97 L609.00,225.82 L609.22,222.72 L609.44,219.67 L609.65,216.68 L609.87,213.75 L610.09,210.89 L610.31,208.11 L610.52,205.40 L610.74,202.77 L610.96,200.23 L611.18,197.78 L611.40,195.43 L611.61,193.18 L611.83,191.04 L612.05,189.01 L612.27,187.09 L612.48,185.29 L612.70,183.62 L612.92,182.07 L613.14,180.65 L613.36,179.37 L613.57,178.23 L613.79,177.22 L614.01,176.35 L614.23,175.63 L614.44,175.06 L614.66,174.63 L614.88,174.35 L615.10,174.21 L615.32,174.23 L615.53,174.39 L615.75,174.70 L615.97,175.16 L616.19,175.77 L616.40,176.52 L616.62,177.41 L616.84,178.45 L617.06,179.62 L617.28,180.93 L617.49,182.38 L617.71,183.95 L617.93,185.65 L618.15,187.47 L618.36,189.41 L618.58,191.47 L618.80,193.63 L619.02,195.90 L619.23,198.27 L619.45,200.74 L619.67,203.30 L619.89,205.94 L620.11,208.67 L620.32,211.47 L620.54,214.35 L620.76,217.29 L620.98,220.29 L621.19,223.35 L621.41,226.46 L621.63,229.62 L621.85,232.81 L622.07,236.05 L622.28,239.32 L622.50,242.61 L622.72,245.93 L622.94,249.27 L623.15,252.62 L623.37,255.98 L623.59,259.35 L623.81,262.73 L624.03,266.10 L624.24,269.47 L624.46,272.83 L624.68,276.19 L624.90,279.52 L625.11,282.85 L625.33,286.15 L625.55,289.43 L625.77,292.69 L625.99,295.92 L626.20,299.12 L626.42,302.30 L626.64,305.44 L626.86,308.54 L627.07,311.61 L627.29,314.64 L627.51,317.64 L627.73,320.59 L627.95,323.50 L628.16,326.37 L628.38,329.19 L628.60,331.97 L628.82,334.71 L629.03,337.40 L629.25,340.04 L629.47,342.63 L629.69,345.18 L629.91,347.67 L630.12,350.12 L630.34,352.52 L630.56,354.87 L630.78,357.16 L630.99,359.41 L631.21,361.61 L631.43,363.76 L631.65,365.85 L631.86,367.90 L632.08,369.89 L632.30,371.83 L632.52,373.73 L632.74,375.57 L632.95,377.36 L633.17,379.10 L633.39,380.79 L633.61,382.43 L633.82,384.02 L634.04,385.55 L634.26,387.04 L634.48,388.48 L634.70,389.87 L634.91,391.21 L635.13,392.50 L635.35,393.74 L635.57,394.93 L635.78,396.08 L636.00,397.17 L636.22,398.22 L636.44,399.22 L636.66,400.17 L636.87,401.07 L637.09,401.92 L637.31,402.73 L637.53,403.49 L637.74,404.20 L637.96,404.87 L638.18,405.49 L638.40,406.06 L638.62,406.58 L638.83,407.06 L639.05,407.50 L639.27,407.88 L639.49,408.22 L639.70,408.51 L639.92,408.76 L640.14,408.96 L640.36,409.12 L640.58,409.23 L640.79,409.29 L641.01,409.31 L641.23,409.28 L641.45,409.21 L641.66,409.09 L641.88,408.92 L642.10,408.71 L642.32,408.45 L642.54,408.15 L642.75,407.80 L642.97,407.40 L643.19,406.96 L643.41,406.47 L643.62,405.93 L643.84,405.35 L644.06,404.72 L644.28,404.04 L644.50,403.32 L644.71,402.55 L644.93,401.73 L645.15,400.86 L645.37,399.95 L645.58,398.99 L645.80,397.98 L646.02,396.92 L646.24,395.81 L646.45,394.66 L646.67,393.46 L646.89,392.20 L647.11,390.90 L647.33,389.55 L647.54,388.15 L647.76,386.70 L647.98,385.20 L648.20,383.65 L648.41,382.05 L648.63,380.40 L648.85,378.70 L649.07,376.95 L649.29,375.14 L649.50,373.29 L649.72,371.39 L649.94,369.43 L650.16,367.42 L650.37,365.37 L650.59,363.26 L650.81,361.10 L651.03,358.89 L651.25,356.63 L651.46,354.32 L651.68,351.96 L651.90,349.55 L652.12,347.10 L652.33,344.59 L652.55,342.03 L652.77,339.43 L652.99,336.77 L653.21,334.07 L653.42,331.33 L653.64,328.54 L653.86,325.70 L654.08,322.83 L654.29,319.90 L654.51,316.94 L654.73,313.94 L654.95,310.90 L655.17,307.82 L655.38,304.71 L655.60,301.56 L655.82,298.38 L656.04,295.17 L656.25,291.93 L656.47,288.67 L656.69,285.38 L656.91,282.07 L657.13,278.75 L657.34,275.40 L657.56,272.05 L657.78,268.69 L658.00,265.32 L658.21,261.94 L658.43,258.57 L658.65,255.20 L658.87,251.84 L659.08,248.49 L659.30,245.15 L659.52,241.84 L659.74,238.55 L659.96,235.29 L660.17,232.07 L660.39,228.88 L660.61,225.73 L660.83,222.63 L661.04,219.59 L661.26,216.60 L661.48,213.67 L661.70,210.81 L661.92,208.03 L662.13,205.32 L662.35,202.70 L662.57,200.16 L662.79,197.71 L663.00,195.36 L663.22,193.12 L663.44,190.98 L663.66,188.95 L663.88,187.04 L664.09,185.24 L664.31,183.57 L664.53,182.03 L664.75,180.62 L664.96,179.34 L665.18,178.20 L665.40,177.19 L665.62,176.33 L665.84,175.61 L666.05,175.04 L666.27,174.62 L666.49,174.34 L666.71,174.21 L666.92,174.23 L667.14,174.40 L667.36,174.71 L667.58,175.18 L667.80,175.79 L668.01,176.54 L668.23,177.44 L668.45,178.48 L668.67,179.66 L668.88,180.97 L669.10,182.42 L669.32,184.00 L669.54,185.70 L669.76,187.53 L669.97,189.47 L670.19,191.53 L670.41,193.69 L670.63,195.97 L670.84,198.34 L671.06,200.81 L671.28,203.37 L671.50,206.02 L671.72,208.75 L671.93,211.55 L672.15,214.43 L672.37,217.37 L672.59,220.38 L672.80,223.44 L673.02,226.55 L673.24,229.71 L673.46,232.90 L673.67,236.14 L673.89,239.41 L674.11,242.70 L674.33,246.02 L674.55,249.36 L674.76,252.71 L674.98,256.08 L675.20,259.45 L675.42,262.82 L675.63,266.20 L675.85,269.57 L676.07,272.93 L676.29,276.28 L676.51,279.62 L676.72,282.94 L676.94,286.24 L677.16,289.52 L677.38,292.78 L677.59,296.01 L677.81,299.21 L678.03,302.38 L678.25,305.52 L678.47,308.63 L678.68,311.70 L678.90,314.73 L679.12,317.72 L679.34,320.67 L679.55,323.58 L679.77,326.45 L679.99,329.27 L680.21,332.05 L680.43,334.78 L680.64,337.47 L680.86,340.11 L681.08,342.70 L681.30,345.25 L681.51,347.74 L681.73,350.19 L681.95,352.59 L682.17,354.93 L682.39,357.23 L682.60,359.47 L682.82,361.67 L683.04,363.82 L683.26,365.91 L683.47,367.95 L683.69,369.95 L683.91,371.89 L684.13,373.78 L684.35,375.62 L684.56,377.41 L684.78,379.15 L685.00,380.83 L685.22,382.47 L685.43,384.06 L685.65,385.60 L685.87,387.08 L686.09,388.52 L686.30,389.91 L686.52,391.25 L686.74,392.54 L686.96,393.78 L687.18,394.97 L687.39,396.11 L687.61,397.20 L687.83,398.25 L688.05,399.24 L688.26,400.19 L688.48,401.09 L688.70,401.95 L688.92,402.75 L689.14,403.51 L689.35,404.22 L689.57,404.89 L689.79,405.50 L690.01,406.07 L690.22,406.60 L690.44,407.08" fill="none" stroke="#e60000" stroke-width="2.2" stroke-dasharray="8.3 7.1955" stroke-dashoffset="4.55"/>
<path d="M131.06,245.20 L136.99,133.70 L142.92,190.50 L148.86,52.30 L154.79,87.50 L160.72,216.00 L166.65,275.80 L172.58,386.80 L178.52,405.00 L184.45,310.70 L190.38,324.50 L196.31,216.00 L202.25,159.30 L208.18,210.00 L214.11,266.00 L220.04,368.00 L225.97,411.00 L231.91,415.50 L237.84,391.50 L243.77,306.00 L249.70,232.70 L255.63,221.50 L261.57,241.00 L267.50,317.00 L273.43,387.70 L279.36,417.00 L285.29,437.00 L291.23,372.00 L297.16,280.00 L303.09,171.40 L309.02,198.40 L314.96,255.00 L320.89,325.00 L326.82,405.00 L332.75,429.50 L338.68,416.20 L344.62,360.00 L350.55,197.50 L356.48,161.70 L362.41,182.00 L368.34,283.00 L374.28,370.00 L380.21,432.60 L386.14,438.50 L392.07,416.20 L398.00,284.00 L403.94,193.50 L409.87,186.50 L415.80,200.00 L421.73,325.00 L427.67,412.00 L433.60,460.00 L439.53,400.70 L445.46,356.00 L451.39,257.00 L457.33,169.80 L463.26,184.60 L469.19,268.00 L475.12,367.00 L481.05,432.60 L486.99,436.50 L492.92,383.00 L498.85,330.80 L504.78,196.70 L510.71,176.20 L516.65,216.00 L522.58,318.00 L528.51,392.00 L534.44,410.50 L540.37,406.50 L546.31,351.70 L552.24,291.60 L558.17,210.50 L564.10,179.50 L570.04,239.50 L575.97,312.00 L581.90,379.00 L587.83,400.50 L593.76,392.50 L599.70,315.00 L605.63,226.00 L611.56,141.00 L617.49,140.60 L623.42,232.00 L629.36,311.00 L635.29,372.00 L641.22,400.50 L647.15,365.00 L653.08,290.40 L659.02,311.50 L664.95,247.00 L670.88,185.50 L676.81,272.00 L682.75,352.00 L688.68,457.00 L694.61,407.00 L700.54,360.00" fill="none" stroke="#000" stroke-width="2" stroke-linejoin="miter"/>
</g>
<g stroke="#000" stroke-width="2" fill="none">
<rect x="121" y="21" width="577" height="469.4"/>
<line x1="121.00" y1="490.4" x2="121.00" y2="499.79999999999995"/><line x1="121.00" y1="21" x2="121.00" y2="11.6"/><line x1="175.44" y1="490.4" x2="175.44" y2="495.7"/><line x1="175.44" y1="21" x2="175.44" y2="15.7"/><line x1="229.88" y1="490.4" x2="229.88" y2="499.79999999999995"/><line x1="229.88" y1="21" x2="229.88" y2="11.6"/><line x1="284.32" y1="490.4" x2="284.32" y2="495.7"/><line x1="284.32" y1="21" x2="284.32" y2="15.7"/><line x1="338.76" y1="490.4" x2="338.76" y2="499.79999999999995"/><line x1="338.76" y1="21" x2="338.76" y2="11.6"/><line x1="393.20" y1="490.4" x2="393.20" y2="495.7"/><line x1="393.20" y1="21" x2="393.20" y2="15.7"/><line x1="447.64" y1="490.4" x2="447.64" y2="499.79999999999995"/><line x1="447.64" y1="21" x2="447.64" y2="11.6"/><line x1="502.08" y1="490.4" x2="502.08" y2="495.7"/><line x1="502.08" y1="21" x2="502.08" y2="15.7"/><line x1="556.52" y1="490.4" x2="556.52" y2="499.79999999999995"/><line x1="556.52" y1="21" x2="556.52" y2="11.6"/><line x1="610.96" y1="490.4" x2="610.96" y2="495.7"/><line x1="610.96" y1="21" x2="610.96" y2="15.7"/><line x1="665.40" y1="490.4" x2="665.40" y2="499.79999999999995"/><line x1="665.40" y1="21" x2="665.40" y2="11.6"/><line x1="121" y1="480.20" x2="111.1" y2="480.20"/><line x1="121" y1="429.20" x2="115.0" y2="429.20"/><line x1="121" y1="378.20" x2="111.1" y2="378.20"/><line x1="121" y1="327.20" x2="115.0" y2="327.20"/><line x1="121" y1="276.20" x2="111.1" y2="276.20"/><line x1="121" y1="225.20" x2="115.0" y2="225.20"/><line x1="121" y1="174.20" x2="111.1" y2="174.20"/><line x1="121" y1="123.20" x2="115.0" y2="123.20"/><line x1="121" y1="72.20" x2="111.1" y2="72.20"/><line x1="121" y1="21.20" x2="115.0" y2="21.20"/>
</g>
<g font-size="26"><text x="121.00" y="524.5" text-anchor="middle">930</text><text x="229.88" y="524.5" text-anchor="middle">940</text><text x="338.76" y="524.5" text-anchor="middle">950</text><text x="447.64" y="524.5" text-anchor="middle">960</text><text x="556.52" y="524.5" text-anchor="middle">970</text><text x="665.40" y="524.5" text-anchor="middle">980</text></g><g font-size="25.5"><text x="105.5" y="487.20" text-anchor="end">0.4</text><text x="105.5" y="385.20" text-anchor="end">0.6</text><text x="105.5" y="283.20" text-anchor="end">0.8</text><text x="105.5" y="181.20" text-anchor="end">1.0</text><text x="105.5" y="79.20" text-anchor="end">1.2</text></g>
<line x1="408.7" y1="52.9" x2="458.8" y2="52.9" stroke="#000" stroke-width="2"/>
<line x1="408.7" y1="87" x2="458.8" y2="87" stroke="#e60000" stroke-width="2.2" stroke-dasharray="8.5 7"/>
<text x="465.5" y="60.3" font-size="27">Factored Intensity</text>
<text x="465.5" y="94" font-size="27">Fit</text>
<text x="132" y="479.3" font-size="30" font-weight="bold">b</text>
<text x="410" y="573" font-size="27.15" text-anchor="middle">Wavenumber (cm<tspan font-size="16.5" dy="-10">-</tspan><tspan font-size="16.5" dx="1.6">1</tspan><tspan dx="1.6" dy="10">)</tspan></text>
<text transform="translate(38.4,257.4) rotate(-90)" font-size="27.45" text-anchor="middle">Factored Intensity (A.U.)</text>
<text x="10.5" y="615.6" font-size="39.5" style="font-family:'Liberation Serif',serif">Fig7b</text>
</svg>
</body></html>
